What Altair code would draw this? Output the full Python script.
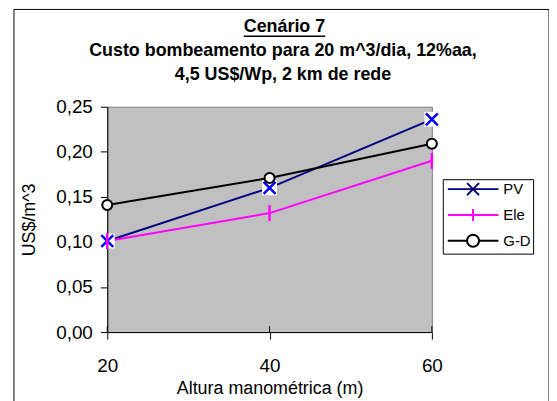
import math
import altair as alt
import pandas as pd

FONT = "Liberation Sans"

altura = [20, 40, 60]
series_names = ["PV", "Ele", "G-D"]
pv = [0.101, 0.160, 0.236]
ele = [0.101, 0.132, 0.190]
gd = [0.141, 0.171, 0.209]

title_lines = [
    "Cenário 7",
    "Custo bombeamento para 20 m^3/dia, 12%aa,",
    "4,5 US$/Wp, 2 km de rede",
]

rows = []
for name, vals in zip(series_names, [pv, ele, gd]):
    for a, v in zip(altura, vals):
        rows.append({"altura": a, "custo": v, "serie": name})
df = pd.DataFrame(rows)

line_colors = ["#000080", "#FF00FF", "#000000"]

# legend symbol glyphs (line + marker), unit = 7 px
R = 0.86
ring = "".join(
    ("M" if k == 0 else "L") + f"{R*math.cos(2*math.pi*k/24):.3f},{R*math.sin(2*math.pi*k/24):.3f}"
    for k in range(25)
)
legend_paths = [
    "M-3.64,0L3.64,0M-0.86,-0.86L0.86,0.86M-0.86,0.86L0.86,-0.86",
    "M-3.64,0L3.64,0M0,-0.86L0,0.86",
    "M-3.64,0L-0.86,0M0.86,0L3.64,0" + ring,
]

x_enc = alt.X(
    "altura:Q",
    scale=alt.Scale(domain=[20, 60], nice=False, zero=False),
    axis=alt.Axis(
        values=altura, title="Altura manométrica (m)", grid=False, labelFlush=False,
        labelFont=FONT, labelFontSize=19, labelColor="black", labelPadding=18,
        tickColor="black", tickSize=7, domainColor="black",
        titleFont=FONT, titleFontSize=18, titleFontWeight="normal",
        titleColor="black", titlePadding=4,
    ),
)
y_enc = alt.Y(
    "custo:Q",
    scale=alt.Scale(domain=[0, 0.25], nice=False),
    axis=alt.Axis(
        values=[0, 0.05, 0.10, 0.15, 0.20, 0.25], title="US$/m^3", grid=False, labelFlush=False,
        labelExpr="replace(format(datum.value, '.2f'), '.', ',')",
        labelFont=FONT, labelFontSize=19, labelColor="black", labelPadding=8,
        tickColor="black", tickSize=7, domainColor="black",
        titleFont=FONT, titleFontSize=18, titleFontWeight="normal",
        titleColor="black", titlePadding=17,
    ),
)

leg = alt.Legend(
    title=None, orient="none", legendX=338, legendY=73,
    strokeColor="black", fillColor="white", padding=2,
    rowPadding=4, symbolOffset=20.5, labelOffset=22.5,
    labelFont=FONT, labelFontSize=15, labelColor="black",
    symbolSize=196, symbolStrokeWidth=2, symbolOpacity=1,
)
stroke_scale = alt.Scale(domain=series_names, range=line_colors)

base = alt.Chart(df)
one_row = "datum.altura == 20 && datum.serie == 'PV'"

border = base.mark_rect(filled=False, stroke="black", strokeWidth=1).encode(
    x=alt.value(-94), x2=alt.value(445), y=alt.value(-98), y2=alt.value(300)
).transform_filter(one_row)

title_layers = []
for txt, ty, tx in zip(title_lines, [-75, -51, -27], [178.5, 177, 177]):
    title_layers.append(
        base.mark_text(font=FONT, fontSize=18, fontWeight="bold", color="black",
                       align="center", baseline="alphabetic").encode(
            x=alt.value(tx), y=alt.value(ty), text=alt.value(txt)
        ).transform_filter(one_row)
    )

underline = base.mark_rule(stroke="black", strokeWidth=1.5).encode(
    x=alt.value(137.5), x2=alt.value(219.5), y=alt.value(-71)
).transform_filter(one_row)

lines = base.mark_line(strokeWidth=2).encode(
    x=x_enc,
    y=y_enc,
    stroke=alt.Stroke("serie:N", scale=stroke_scale, legend=leg, sort=series_names),
)

inner_ticks = base.mark_rule(stroke="black", strokeWidth=1).encode(
    x="altura:Q", y=alt.value(221), y2=alt.value(227)
).transform_filter("datum.serie == 'PV'")

pv_bg = base.mark_point(shape="square", filled=True, color="white", size=225, opacity=1).encode(
    x="altura:Q", y="custo:Q"
).transform_filter("datum.serie == 'PV'")

pv_mk = base.mark_point(shape="M-1,-1L1,1M-1,1L1,-1", stroke="#0000FF", strokeWidth=2.5,
                        size=144, opacity=1, fill="transparent").encode(
    x="altura:Q", y="custo:Q"
).transform_filter("datum.serie == 'PV'")

ele_mk = base.mark_point(shape="M0,-1L0,1", stroke="#FF00FF", strokeWidth=2.5,
                         size=256, opacity=1, fill="transparent").encode(
    x="altura:Q", y="custo:Q"
).transform_filter("datum.serie == 'Ele'")

gd_mk = base.mark_point(shape="circle", stroke="#000000", strokeWidth=2,
                        size=102, opacity=1, fill="#ffffff").encode(
    x="altura:Q", y="custo:Q"
).transform_filter("datum.serie == 'G-D'")

legend_layer = base.mark_point(strokeWidth=2, size=196).encode(
    x="altura:Q",
    y="custo:Q",
    shape=alt.Shape("serie:N", scale=alt.Scale(domain=series_names, range=legend_paths), legend=leg, sort=series_names),
    stroke=alt.Stroke("serie:N", scale=stroke_scale, legend=leg, sort=series_names),
).transform_filter("datum.custo < 0")

chart = alt.layer(
    border, *title_layers, underline, lines, inner_ticks, pv_bg, pv_mk, ele_mk, gd_mk, legend_layer
).properties(
    width=327,
    height=227,
    autosize=alt.AutoSizeParams(type="none"),
    padding={"left": 100, "top": 98, "right": 118, "bottom": 70},
    background="white",
).configure_view(
    fill="#C0C0C0", stroke="#808080", strokeWidth=1
)

chart.save("out.html", embed_options={"renderer": "svg", "actions": False})
